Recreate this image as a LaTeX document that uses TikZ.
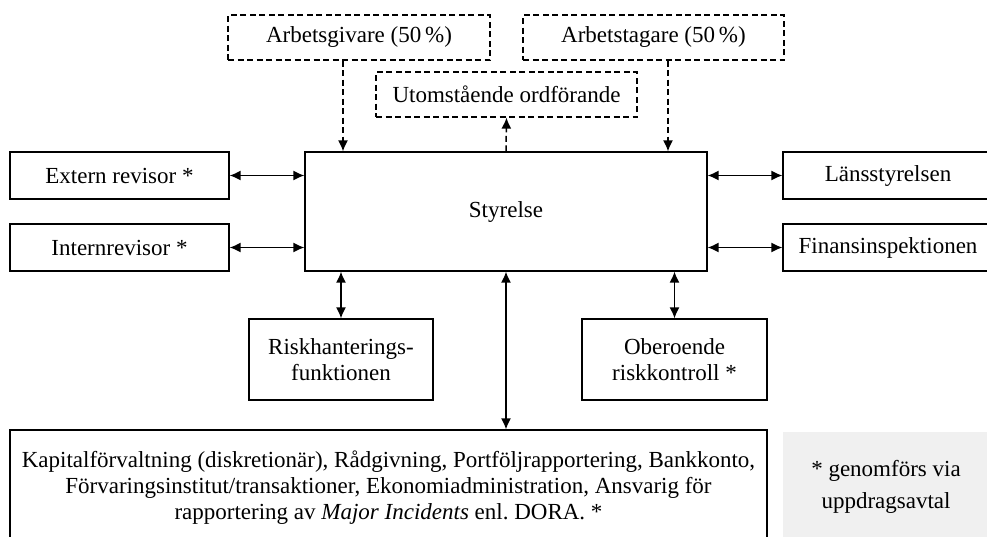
\documentclass[tikz,border=0pt]{standalone}
\usepackage{fontspec}
\setmainfont{Liberation Serif}
\usetikzlibrary{arrows.meta}
\definecolor{notegray}{RGB}{240,240,240}
\tikzset{stip/.style={dash pattern=on 6pt off 3.5pt},
  pil/.tip={Latex[length=11pt,width=10pt]}}

\begin{document}
\begin{tikzpicture}[x=1pt,y=-1pt,font=\fontsize{23}{26}\selectfont]
      \useasboundingbox (0,0) rectangle (987,536);
      \begin{scope}[every node/.style={draw,line width=1.2pt,inner sep=0pt,align=center}]
        \node[stip,minimum width=262pt,minimum height=45pt] (agiv) at (359,37.5) {Arbetsgivare (50\,\%)};
        \node[stip,minimum width=261pt,minimum height=45pt] (atag) at (653.5,37.5) {Arbetstagare (50\,\%)};
        \node[stip,minimum width=261pt,minimum height=45pt] (utom) at (506.5,94.5) {Utomstående ordförande};
        \node[minimum width=402pt,minimum height=119pt] (styr) at (506,211.5) {Styrelse};
        \node[minimum width=219pt,minimum height=47pt] (ext) at (119.5,175.5) {Extern revisor *};
        \node[minimum width=219pt,minimum height=47pt] (int) at (119.5,247.5) {Internrevisor *};
        \node[minimum width=210pt,minimum height=47pt] (lans) at (888,175.5) {Länsstyrelsen};
        \node[minimum width=210pt,minimum height=47pt] (fi) at (888,247.5) {Finansinspektionen};
        \node[minimum width=184pt,minimum height=81pt] (risk) at (341,359.5) {Riskhanterings-\\funktionen};
        \node[minimum width=185pt,minimum height=81pt] (ober) at (674.5,359.5) {Oberoende\\riskkontroll *};
        \node[minimum width=757pt,minimum height=115pt] (uppdrag) at (388.5,487.5)
          {Kapitalförvaltning (diskretionär), Rådgivning, Portföljrapportering, Bankkonto,\\
           Förvaringsinstitut/transaktioner, Ekonomiadministration, Ansvarig för\\
           rapportering av \textit{Major Incidents} enl.\ DORA. *};
        \node[draw=none,fill=notegray,minimum width=206pt,minimum height=110pt,
          font=\fontsize{23}{32}\selectfont] (not) at (886,487) {* genomförs via\\uppdragsavtal};
      \end{scope}
      \coordinate (agivut) at ([xshift=-16pt]agiv.south);
      \coordinate (atagut) at ([xshift=14.5pt]atag.south);
      \begin{scope}[every edge/.style={draw,line width=1.5pt,pil-pil}]
        \path (ext.east) edge (ext.east -| styr.west);
        \path (int.east) edge (int.east -| styr.west);
        \path (styr.east |- lans.west) edge (lans.west);
        \path (styr.east |- fi.west) edge (fi.west);
        \path (risk.north) edge (risk.north |- styr.south);
        \path (ober.north) edge (ober.north |- styr.south);
        \path (styr.south) edge (styr.south |- uppdrag.north);
        \path (agivut) edge[stip,-pil] (agivut |- styr.north);
        \path (atagut) edge[stip,-pil] (atagut |- styr.north);
        \path (styr.north) edge[stip,-pil] (utom.south);
      \end{scope}
    \end{tikzpicture}
\end{document}
